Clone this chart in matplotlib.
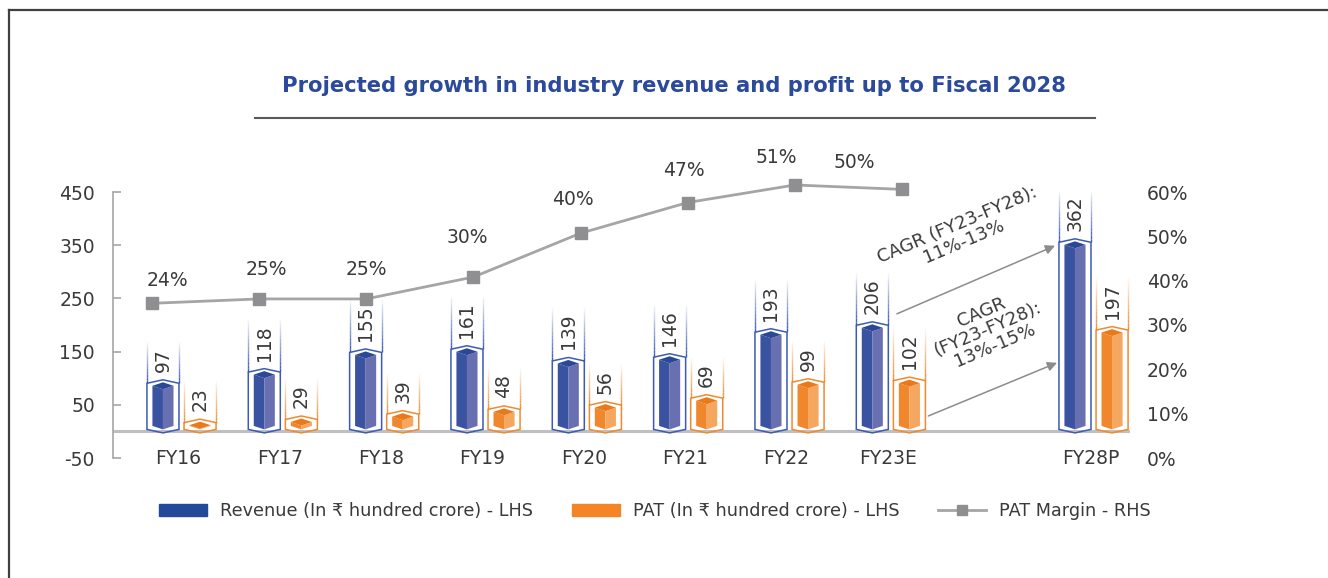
import numpy as np
import matplotlib.pyplot as plt
from matplotlib.patches import Polygon, Patch
from matplotlib.lines import Line2D
from matplotlib.collections import LineCollection
from matplotlib.colors import to_rgb

plt.rcParams['font.family'] = ['DejaVu Sans']
plt.rcParams['axes.unicode_minus'] = False

# data (Rs hundred crore, PAT margin in %)
years = ['FY16', 'FY17', 'FY18', 'FY19', 'FY20', 'FY21', 'FY22', 'FY23E', 'FY28P']
year_pos = [0, 1, 2, 3, 4, 5, 6, 7, 9]
revenue = [97, 118, 155, 161, 139, 146, 193, 206, 362]
pat = [23, 29, 39, 48, 56, 69, 99, 102, 197]
margin_years = ['FY16', 'FY17', 'FY18', 'FY19', 'FY20', 'FY21', 'FY22', 'FY23E']
pat_margin = [24, 25, 25, 30, 40, 47, 51, 50]

TEXT = '#3a3a3a'
GRID = '#a6a6a6'
BLUE = dict(face='#3a53a0', side='#6870b2', cap='#2b4897', edge='#3b5bb5')
ORANGE = dict(face='#f0872c', side='#f5a75f', cap='#e97a1c', edge='#f08a30')

W_PX, H_PX = 1328, 578
fig = plt.figure(figsize=(W_PX / 100, H_PX / 100), dpi=100)

# axes box in pixels: left 113, right 1130, top 192, bottom 458
box = [113 / W_PX, 1 - 458 / H_PX, (1130 - 113) / W_PX, (458 - 192) / H_PX]
ax = fig.add_axes(box)
ax.set_ylim(-50, 450)
ax.set_xlim(-0.676, 9.36)
PX = 500 / 266.0  # one pixel in data units

for s in ['top', 'right', 'bottom']:
    ax.spines[s].set_visible(False)
ax.spines['left'].set_color(GRID)
ax.spines['left'].set_linewidth(1.2)
ax.set_yticks([-50, 50, 150, 250, 350, 450])
ax.tick_params(axis='y', direction='in', length=6, width=1.2, color=GRID,
               labelsize=13.5, labelcolor=TEXT, pad=13)
ax.set_xticks([])
ax.axhline(0, color='#bfbfbf', lw=2.2, zorder=1)

for x, lab in zip(year_pos, years):
    ax.text(x - 0.03, -50, lab, ha='center', va='center', fontsize=13.5, color=TEXT)


def draw_prism(xc, val, c):
    w = 0.104
    W = 0.158
    d = 3.5 * PX
    base = 2 * PX
    top = val - 2.5 * PX
    left = [(xc - w, base + d), (xc - w, top - d), (xc, top - 2 * d), (xc, base)]
    right = [(xc, base), (xc, top - 2 * d), (xc + w, top - d), (xc + w, base + d)]
    cap = [(xc - w, top - d), (xc, top), (xc + w, top - d), (xc, top - 2 * d)]
    ax.add_patch(Polygon(left, closed=True, fc=c['face'], ec='none', zorder=3))
    ax.add_patch(Polygon(right, closed=True, fc=c['side'], ec='none', zorder=3))
    ax.add_patch(Polygon(cap, closed=True, fc=c['cap'], ec='none', zorder=3))
    bot = -1.5 * PX
    outline = [(xc - W, bot + d), (xc, bot), (xc + W, bot + d),
               (xc + W, val - d), (xc, val), (xc - W, val - d)]
    ax.add_patch(Polygon(outline, closed=True, fc='none', ec=c['edge'], lw=1.1, zorder=4))

    # fading guide lines framing the value label
    label = str(val)
    ext = (16 + 11 * len(label)) * PX
    n = 14
    ys = np.linspace(val - d, val + ext, n + 1)
    segs, cols = [], []
    for xe in (xc - W, xc + W):
        for i in range(n):
            segs.append([(xe, ys[i]), (xe, ys[i + 1])])
            cols.append((*to_rgb(c['edge']), 1 - i / n))
    ax.add_collection(LineCollection(segs, colors=cols, linewidths=1.0, zorder=4))
    ax.text(xc, val + 8 * PX, label, rotation=90, ha='center', va='bottom',
            fontsize=13.5, color=TEXT, zorder=5)


off = 0.183
for x, r, p in zip(year_pos, revenue, pat):
    draw_prism(x - off, r, BLUE)
    draw_prism(x + off, p, ORANGE)

# right-hand percentage scale
axr = ax.twinx()
axr.set_ylim(0, 60)
axr.set_yticks(range(0, 61, 10))
axr.set_yticklabels([f'{v}%' for v in range(0, 61, 10)])
axr.tick_params(axis='y', length=0, labelsize=13.5, labelcolor=TEXT, pad=12)
for s in axr.spines.values():
    s.set_visible(False)

# PAT margin line
axl = fig.add_axes(box)
axl.set_xlim(-0.364, 9.128)
axl.set_ylim(-11.3, 49.4)
axl.axis('off')
xl = np.arange(len(margin_years))
axl.plot(xl, pat_margin, color='#a5a5a5', lw=2.0, marker='s', markersize=8,
         markerfacecolor='#8f8f91', markeredgecolor='#8f8f91', zorder=3, clip_on=False)
label_offsets = [(15, 23), (7, 29), (0, 29), (-6, 40), (-8, 34), (-4, 32), (-19, 27), (-48, 27)]
for x, v, (dx, dy) in zip(xl, pat_margin, label_offsets):
    axl.annotate(f'{v}%', (x, v), xytext=(dx * 0.72, dy * 0.72), textcoords='offset points',
                 ha='center', va='center', fontsize=13.5, color=TEXT, annotation_clip=False)

# CAGR call-outs
arrow = dict(arrowstyle='-|>', color='#8c8c8c', lw=1.1, mutation_scale=14, shrinkA=0, shrinkB=0)
ax.annotate('', xy=(8.62, 349), xytext=(7.06, 221), arrowprops=arrow, zorder=6)
ax.annotate('', xy=(8.64, 129), xytext=(7.37, 29), arrowprops=arrow, zorder=6)
ax.text(7.69, 372, 'CAGR (FY23-FY28):\n11%-13%', rotation=23, rotation_mode='anchor',
        ha='center', va='center', multialignment='center', fontsize=13, color=TEXT,
        linespacing=1.0)
ax.text(7.96, 193, 'CAGR\n(FY23-FY28):\n13%-15%', rotation=23, rotation_mode='anchor',
        ha='center', va='center', multialignment='center', fontsize=13, color=TEXT,
        linespacing=1.0)

# title and rule
fig.text(674 / W_PX, 1 - 86 / H_PX, 'Projected growth in industry revenue and profit up to Fiscal 2028',
         ha='center', va='center', fontsize=15.2, fontweight='bold', color='#2b4a9b')
fig.add_artist(Line2D([255 / W_PX, 1095 / W_PX], [1 - 118 / H_PX] * 2, color='#595959', lw=1.5))

# outer frame
fig.add_artist(Line2D([9 / W_PX, 9 / W_PX], [0, 1 - 10 / H_PX], color='#404040', lw=1.6))
fig.add_artist(Line2D([9 / W_PX, 1], [1 - 10 / H_PX] * 2, color='#404040', lw=1.6))

# legend
handles = [Patch(facecolor='#234a9a', edgecolor='#234a9a'),
           Patch(facecolor='#f58426', edgecolor='#f58426'),
           Line2D([], [], color='#a5a5a5', lw=2.0, marker='s', markersize=7,
                  markerfacecolor='#8f8f91', markeredgecolor='#8f8f91')]
labels = ['Revenue (In ₹ hundred crore) - LHS', 'PAT (In ₹ hundred crore) - LHS', 'PAT Margin - RHS']
fig.legend(handles, labels, loc='center', bbox_to_anchor=(655 / W_PX, 1 - 511 / H_PX), ncol=3,
           frameon=False, fontsize=12.7, handlelength=2.7, handleheight=0.7, handletextpad=0.75,
           columnspacing=2.2, labelcolor=TEXT)

fig.savefig('out.png', dpi=100)
